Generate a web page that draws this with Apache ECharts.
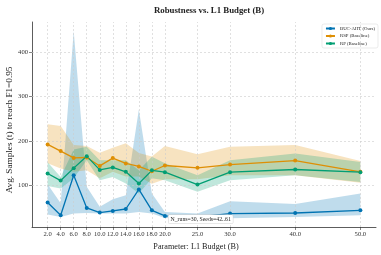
<!DOCTYPE html>
<html><head><meta charset="utf-8">
<script src="https://cdn.jsdelivr.net/npm/echarts@6/dist/echarts.min.js"></script>
<style>html,body{margin:0;padding:0;background:#fff}#c{width:381px;height:255px}</style>
</head><body><div id="c"></div>
<script>
const budgets = [2,4,6,8,10,12,14,16,18,20,25,30,40,50];
const xTicks = [2,4,6,8,10,12,14,16,18,20,25,30,40,50];
const yTicks = [100,200,300,400];

const bucMean = [61.6,33,123,49.5,39,42.7,47,91,44,31.5,29,36.7,38,44];
const bucLow  = [34.5,29,37,38,37,37,37,40,37,27,25,26,29,33];
const bucHigh = [103,60,447,97,52,69,78,271,82,40,37,64.5,58,82];

const rspMean = [192.5,177.4,162,163,144,161.6,149.6,142.8,132,145,139.8,147,156,130.7];
const rspLow  = [150,138,131,134,116,131,120,120,104,114,114,123,123,106];
const rspHigh = [237.6,234,191,189,173.6,185,195,173,165,189,170,187,191,155];

const rpMean = [127,111,139,166,135,140.6,130.7,104.5,134,130,102,130,136,130];
const rpLow  = [99,93,116,157,112,119,104.5,82,116,112,85.6,112,123,108];
const rpHigh = [152,119,181,187,157,157,157,134.5,164.5,150,123,157,172,153];

const seriesNames = ['BUC-AHT (Ours)','RSP (Baseline)','RP (Baseline)'];
const colors = ['#0173B2','#DE8F05','#029E73'];
const bandColors = ['rgba(1,115,178,0.25)','rgba(222,143,5,0.25)','rgba(2,158,115,0.25)'];
const titleText = 'Robustness vs. L1 Budget (B)';
const xName = 'Parameter: L1 Budget (B)';
const yName = 'Avg. Samples (t) to reach F1=0.95';
const annotation = 'N_runs=30, Seeds=42..61';

const FONT = '"Liberation Serif", "DejaVu Serif", serif';

function bandSeries(low, high, color, z) {
  return {
    type: 'custom', silent: true, z: z,
    data: [0],
    renderItem: function (params, api) {
      const pts = [];
      for (let i = 0; i < budgets.length; i++) pts.push(api.coord([budgets[i], high[i]]));
      for (let i = budgets.length - 1; i >= 0; i--) pts.push(api.coord([budgets[i], low[i]]));
      return { type: 'polygon', shape: { points: pts }, style: { fill: color }, silent: true };
    }
  };
}
function lineSeries(name, mean, color, z) {
  return {
    name: name, type: 'line', z: z,
    data: budgets.map((b, i) => [b, mean[i]]),
    symbol: 'circle', symbolSize: 4,
    lineStyle: { color: color, width: 1.3 },
    itemStyle: { color: color },
    animation: false
  };
}
const gridSeries = {
  type: 'line', data: [], silent: true, z: 1,
  markLine: {
    silent: true, symbol: 'none', label: { show: false },
    lineStyle: { color: '#cccccc', type: [2, 2], width: 0.6 },
    data: xTicks.map(v => ({ xAxis: v })).concat(yTicks.map(v => ({ yAxis: v }))),
    animation: false
  }
};

const chart = echarts.init(document.getElementById('c'), null, { renderer: 'canvas' });
chart.setOption({
  animation: false,
  backgroundColor: '#ffffff',
  title: {
    text: titleText, left: 204, textAlign: 'center', top: 1,
    textStyle: { fontFamily: FONT, fontSize: 8.8, fontWeight: 'bold', color: '#222' }
  },
  legend: {
    data: seriesNames, orient: 'vertical', right: 3, top: 24,
    itemWidth: 9, itemHeight: 4, itemGap: 2.5,
    backgroundColor: '#fff', borderColor: '#ddd', borderWidth: 0.6, borderRadius: 2,
    padding: [2, 3, 2, 3],
    textStyle: { fontFamily: FONT, fontSize: 4.8, color: '#222' }
  },
  grid: { left: 32, right: 5, top: 22, bottom: 28, containLabel: false, outerBoundsMode: 'none' },
  xAxis: {
    type: 'value', min: -0.4, max: 52.4,
    axisLine: { show: true, onZero: false, lineStyle: { color: '#333', width: 0.8 } },
    axisTick: { show: true, customValues: xTicks, length: 3, lineStyle: { color: '#333', width: 0.6 } },
    axisLabel: { customValues: xTicks, formatter: v => v.toFixed(1), fontFamily: FONT, fontSize: 6.6, color: '#333', margin: 4, hideOverlap: false },
    splitLine: { show: false }
  },
  yAxis: {
    type: 'value', min: 6.5, max: 468,
    axisLine: { show: true, onZero: false, lineStyle: { color: '#333', width: 0.8 } },
    axisTick: { show: true, customValues: yTicks, length: 3, lineStyle: { color: '#333', width: 0.6 } },
    axisLabel: { customValues: yTicks, formatter: v => v.toFixed(0), fontFamily: FONT, fontSize: 6.6, color: '#333', margin: 4 },
    splitLine: { show: false }
  },
  graphic: [{
    type: 'text', x: 196, y: 246.5, z: 100,
    style: { text: xName, fontFamily: FONT, fontSize: 8.2, fill: '#222', align: 'center', verticalAlign: 'middle' }
  }, {
    type: 'text', x: 10, y: 130, rotation: Math.PI / 2, z: 100,
    style: { text: yName, fontFamily: FONT, fontSize: 9.2, fill: '#222', align: 'center', verticalAlign: 'middle' }
  }, {
    type: 'text', left: 168, top: 214.5, z: 100,
    style: {
      text: annotation, fontFamily: FONT, fontSize: 5.8, fill: '#222',
      backgroundColor: '#fff', borderColor: '#ccc', borderWidth: 0.5, padding: [1.2, 2, 1.2, 2], borderRadius: 1
    }
  }],
  series: [
    gridSeries,
    bandSeries(bucLow, bucHigh, bandColors[0], 2),
    lineSeries(seriesNames[0], bucMean, colors[0], 5),
    bandSeries(rspLow, rspHigh, bandColors[1], 2),
    lineSeries(seriesNames[1], rspMean, colors[1], 5),
    bandSeries(rpLow, rpHigh, bandColors[2], 2),
    lineSeries(seriesNames[2], rpMean, colors[2], 5)
  ]
});
</script></body></html>
